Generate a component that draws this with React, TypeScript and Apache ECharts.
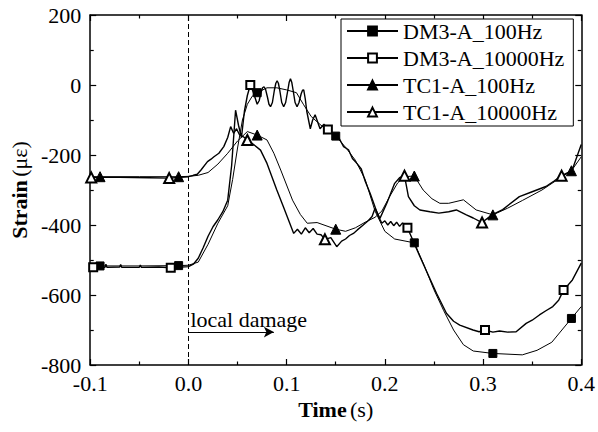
import React, { useEffect, useRef } from 'react';
import * as echarts from 'echarts';

const FONT = "'Liberation Serif', 'Times New Roman', serif";

// Axis ticks
const X_TICKS = [-0.1, 0.0, 0.1, 0.2, 0.3, 0.4];
const Y_TICKS = [-800, -600, -400, -200, 0, 200];

const SERIES_NAMES = ['DM3-A_100Hz', 'DM3-A_10000Hz', 'TC1-A_100Hz', 'TC1-A_10000Hz'];

// DM3-A_100Hz  [time (s), strain (με)]
const DM3_100HZ: [number, number][] = [
  [-0.1, -517], [-0.09, -517], [-0.05, -517], [-0.01, -516], [0.0, -515], [0.01, -506], [0.02, -455],
  [0.03, -395], [0.04, -345], [0.045, -270], [0.05, -180], [0.055, -100], [0.06, -55], [0.065, -32],
  [0.07, -22], [0.08, -8], [0.09, -8], [0.1, -14], [0.11, -22], [0.117, -55], [0.125, -90], [0.135, -115],
  [0.15, -146], [0.16, -178], [0.17, -215], [0.18, -270], [0.19, -360], [0.2, -418], [0.21, -440],
  [0.23, -451], [0.24, -515], [0.25, -585], [0.26, -645], [0.27, -700], [0.28, -742], [0.29, -760],
  [0.31, -767], [0.34, -771], [0.355, -758], [0.37, -735], [0.39, -667], [0.4, -633],
];
const DM3_100HZ_MARKS = [-0.09, -0.01, 0.07, 0.15, 0.23, 0.31, 0.39];

// DM3-A_10000Hz
const DM3_10000HZ: [number, number][] = [
  [-0.1, -521], [-0.097, -521], [-0.085, -521], [-0.084, -512], [-0.083, -521], [-0.07, -520],
  [-0.069, -513], [-0.068, -521], [-0.05, -521], [-0.049, -514], [-0.048, -521], [-0.03, -520],
  [-0.018, -522], [0.0, -519], [0.005, -512], [0.01, -495], [0.015, -465], [0.02, -432], [0.025, -405],
  [0.03, -385], [0.035, -362], [0.04, -329], [0.044, -230], [0.048, -72], [0.051, -115], [0.054, -150],
  [0.057, -75], [0.06, -30], [0.063, 0], [0.066, -20], [0.07, -55], [0.072, -45], [0.074, -20],
  [0.0755, -8], [0.077, -5], [0.0785, -12], [0.0805, -35], [0.082, -55], [0.0836, -62], [0.0855, -50],
  [0.0875, -15], [0.089, 5], [0.0903, 12], [0.0916, 5], [0.093, -15], [0.095, -50], [0.097, -62],
  [0.099, -50], [0.1012, -15], [0.1026, 8], [0.1039, 18], [0.1052, 8], [0.1066, -15], [0.1086, -50],
  [0.1106, -62], [0.1126, -50], [0.1148, -25], [0.1162, -15], [0.1174, -14], [0.119, -40], [0.1205, -75],
  [0.1241, -125], [0.1265, -100], [0.129, -85], [0.1315, -105], [0.134, -125], [0.138, -112], [0.142, -127],
  [0.1495, -146], [0.153, -150], [0.158, -176],
  [0.163, -185], [0.167, -210], [0.1715, -224], [0.176, -240], [0.18, -275], [0.185, -309], [0.1935, -376],
  [0.197, -395], [0.2, -388], [0.203, -400], [0.206, -390], [0.209, -402], [0.212, -392], [0.215, -404],
  [0.218, -394], [0.223, -408], [0.2357, -490], [0.245, -548], [0.2526, -595], [0.2627, -652], [0.27, -675],
  [0.2763, -686], [0.2898, -700], [0.296, -705], [0.302, -700], [0.31, -706], [0.3168, -703], [0.325, -706],
  [0.3337, -705], [0.3439, -681], [0.35, -672], [0.3574, -657], [0.364, -645], [0.371, -633], [0.377, -615],
  [0.382, -586], [0.391, -557], [0.4, -509],
];
const DM3_10000HZ_MARKS = [-0.097, -0.018, 0.063, 0.142, 0.223, 0.302, 0.382];

// TC1-A_100Hz
const TC1_100HZ: [number, number][] = [
  [-0.1, -262], [-0.09, -262], [-0.05, -262], [-0.01, -262], [0.0, -261], [0.01, -258], [0.02, -250],
  [0.03, -226], [0.04, -195], [0.05, -160], [0.06, -133], [0.07, -143], [0.08, -157], [0.087, -195],
  [0.094, -243], [0.106, -329], [0.114, -370], [0.121, -395], [0.131, -393], [0.15, -412], [0.16, -418],
  [0.17, -408], [0.18, -392], [0.19, -378], [0.197, -360], [0.205, -318], [0.213, -280], [0.22, -262],
  [0.23, -260], [0.239, -300], [0.248, -325], [0.256, -338], [0.265, -338], [0.28, -328], [0.293, -357],
  [0.31, -371], [0.325, -352], [0.34, -330], [0.36, -300], [0.375, -272], [0.39, -245], [0.4, -205],
];
const TC1_100HZ_MARKS = [-0.09, -0.01, 0.07, 0.15, 0.23, 0.31, 0.39];

// TC1-A_10000Hz
const TC1_10000HZ: [number, number][] = [
  [-0.1, -264], [-0.099, -264], [-0.07, -264], [-0.04, -265], [-0.0196, -266], [0.0, -262], [0.005, -258],
  [0.009, -255], [0.013, -242], [0.0194, -219], [0.023, -212], [0.026, -205], [0.031, -195], [0.036, -176],
  [0.04, -150], [0.043, -119], [0.046, -138], [0.049, -125], [0.052, -142], [0.056, -148], [0.06, -157],
  [0.065, -167], [0.0734, -186], [0.08, -224], [0.09, -300], [0.097, -350], [0.1072, -424], [0.111, -412],
  [0.115, -426], [0.119, -408], [0.123, -422], [0.127, -410], [0.131, -426], [0.135, -428], [0.139, -441],
  [0.145, -436], [0.151, -462], [0.156, -446], [0.16, -440], [0.164, -430], [0.168, -424], [0.172, -414],
  [0.178, -400], [0.183, -388], [0.187, -376], [0.19, -352], [0.195, -381], [0.202, -338], [0.21, -281],
  [0.215, -265], [0.22, -259], [0.224, -319], [0.23, -345], [0.2357, -357], [0.2459, -362], [0.255, -366],
  [0.265, -362], [0.2728, -357], [0.283, -371], [0.29, -380], [0.299, -393], [0.309, -371], [0.32, -356],
  [0.337, -319], [0.35, -305], [0.364, -290], [0.372, -275], [0.38, -259], [0.3905, -245], [0.4, -170],
];
const TC1_10000HZ_MARKS = [-0.099, -0.0196, 0.06, 0.139, 0.22, 0.299, 0.38];

// Annotation: damage onset line and arrow
const DAMAGE_TIME = [0];
const ARROW_T = [0, 0.087];
const ARROW_V = [-706];
const ANNOTATION_TEXT = 'local damage';

function build(points: [number, number][], marks: number[]) {
  const set = new Set(marks);
  return points.map(([t, v]) => (set.has(t) ? [t, v] : { value: [t, v], symbol: 'none' }));
}

export default function App() {
  const ref = useRef<HTMLDivElement>(null);
  useEffect(() => {
    if (!ref.current) return;
    const chart = echarts.init(ref.current, null, { renderer: 'svg' });
    const axisLine = { show: true, onZero: false, lineStyle: { color: '#000', width: 1.5 } };
    const axisTick = { show: true, inside: true, length: 6, lineStyle: { color: '#000', width: 1.2 } };
    const minorTick = { show: true, splitNumber: 2, length: 3.5, lineStyle: { color: '#000', width: 1.2 } };
    const lineBase = (name: string, data: any[], symbol: string, size: number, width: number) => ({
      name,
      type: 'line',
      data,
      symbol,
      symbolSize: size,
      showAllSymbol: true,
      clip: true,
      lineStyle: { color: '#000', width },
      itemStyle: { color: '#000', borderColor: '#000', borderWidth: 1 },
      emphasis: { disabled: true },
    });
    const s0: any = lineBase(SERIES_NAMES[0], build(DM3_100HZ, DM3_100HZ_MARKS), 'rect', 8, 1);
    s0.markLine = {
      silent: true,
      symbol: 'none',
      label: { show: false },
      lineStyle: { color: '#000', width: 1, type: [5, 3] },
      data: DAMAGE_TIME.map((t) => ({ xAxis: t })),
    };
    const s1: any = lineBase(SERIES_NAMES[1], build(DM3_10000HZ, DM3_10000HZ_MARKS), 'emptyRect', 8, 1.4);
    s1.markLine = {
      silent: true,
      symbol: ['none', 'arrow'],
      symbolSize: [8, 10],
      lineStyle: { color: '#000', width: 1, type: 'solid' },
      label: {
        show: true,
        position: 'insideStartTop',
        formatter: ANNOTATION_TEXT,
        color: '#000',
        fontFamily: FONT,
        fontSize: 22,
        distance: [2, 2],
      },
      data: [[{ coord: [ARROW_T[0], ARROW_V[0]] }, { coord: [ARROW_T[1], ARROW_V[0]] }]],
    };
    const s2: any = lineBase(SERIES_NAMES[2], build(TC1_100HZ, TC1_100HZ_MARKS), 'triangle', 10, 1);
    const s3: any = lineBase(SERIES_NAMES[3], build(TC1_10000HZ, TC1_10000HZ_MARKS), 'emptyTriangle', 10, 1.4);

    chart.setOption({
      animation: false,
      backgroundColor: '#fff',
      grid: { left: 89, right: 16, top: 15, bottom: 67, containLabel: false },
      legend: {
        orient: 'vertical',
        left: 341,
        top: 19,
        itemWidth: 51,
        itemHeight: 11,
        itemGap: 5,
        padding: [1, 9, 3, 5],
        borderColor: '#000',
        borderWidth: 1,
        borderRadius: 0,
        backgroundColor: '#fff',
        data: SERIES_NAMES,
        selectedMode: false,
        textStyle: { fontFamily: FONT, fontSize: 22, color: '#000', lineHeight: 22 },
      },
      xAxis: [
        {
          type: 'value',
          min: X_TICKS[0],
          max: X_TICKS[X_TICKS.length - 1],
          interval: 0.1,
          name: '{b|Time} {n|(s)}',
          nameLocation: 'middle',
          nameGap: 31,
          nameTextStyle: {
            rich: {
              b: { fontFamily: FONT, fontSize: 22, fontWeight: 'bold', color: '#000' },
              n: { fontFamily: FONT, fontSize: 22, color: '#000' },
            },
          },
          axisLine,
          axisTick,
          minorTick,
          splitLine: { show: false },
          axisLabel: {
            margin: 7,
            fontFamily: FONT,
            fontSize: 22,
            color: '#000',
            formatter: (v: number) => v.toFixed(1),
          },
        },
        {
          type: 'value',
          position: 'top',
          min: X_TICKS[0],
          max: X_TICKS[X_TICKS.length - 1],
          interval: 0.1,
          axisLine,
          axisTick,
          minorTick,
          splitLine: { show: false },
          axisLabel: { show: false },
        },
      ],
      yAxis: [
        {
          type: 'value',
          min: Y_TICKS[0],
          max: Y_TICKS[Y_TICKS.length - 1],
          interval: 200,
          name: '{b|Strain} {n|(με)}',
          nameLocation: 'middle',
          nameGap: 49,
          nameRotate: 90,
          nameTextStyle: {
            rich: {
              b: { fontFamily: FONT, fontSize: 22, fontWeight: 'bold', color: '#000' },
              n: { fontFamily: FONT, fontSize: 22, color: '#000' },
            },
          },
          axisLine,
          axisTick,
          minorTick,
          splitLine: { show: false },
          axisLabel: { margin: 9, fontFamily: FONT, fontSize: 22, color: '#000' },
        },
        {
          type: 'value',
          position: 'right',
          min: Y_TICKS[0],
          max: Y_TICKS[Y_TICKS.length - 1],
          interval: 200,
          axisLine,
          axisTick,
          minorTick,
          splitLine: { show: false },
          axisLabel: { show: false },
        },
      ],
      series: [s0, s1, s2, s3],
    });
    return () => chart.dispose();
  }, []);
  return (
    <div
      ref={ref}
      style={{ position: 'fixed', left: 0, top: 0, width: 598, height: 432, background: '#fff' }}
    />
  );
}
